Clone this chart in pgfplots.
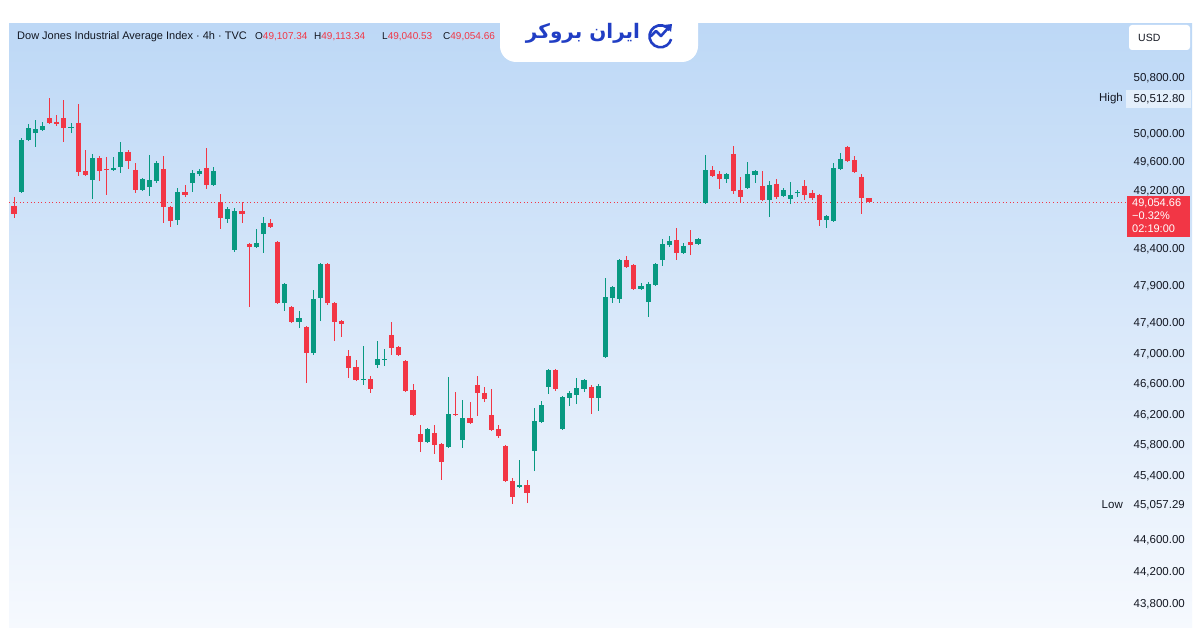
\documentclass[border=0pt]{standalone}
\usepackage{pgfplots}
\pgfplotsset{compat=1.18}
\usepackage{pgfplotstable}
\usepackage{fontspec}
\setmainfont{Liberation Sans}
\newfontfamily\arabicfont[Script=Arabic]{DejaVu Sans}
\TeXXeTstate=1
\definecolor{upc}{HTML}{089981}
\definecolor{dnc}{HTML}{F23645}
\definecolor{txt}{HTML}{131722}
\definecolor{bgtop}{RGB}{189,216,246}
\definecolor{bgbot}{RGB}{246,249,254}
\definecolor{logo}{RGB}{33,62,196}

\pgfplotstableread{
i o h l c d
1 49000 49124 48834 48889 0
2 49193 49948 49180 49920 1
3 49920 50145 49905 50089 1
4 50018 50202 49822 50075 1
5 50061 50174 50050 50117 1
6 50230 50512.8 50150 50160 0
7 50174 50273 50117 50145 0
8 50230 50486 49892 50089 0
9 50089 50160 50018 50103 1
10 50160 50429 49416 49471 0
11 49485 49780 49416 49430 0
12 49360 49723 49096 49667 1
13 49667 49695 49346 49485 0
14 49513 49681 49152 49499 0
15 49499 49681 49485 49527 1
16 49541 49892 49457 49752 1
17 49752 49780 49513 49625 0
18 49499 49597 49180 49221 0
19 49221 49388 49210 49374 1
20 49263 49709 49138 49360 1
21 49346 49625 49319 49597 1
22 49513 49695 48766 48986 0
23 48986 49000 48711 48793 0
24 48807 49249 48738 49193 1
25 49193 49291 49124 49152 0
26 49319 49499 49193 49457 1
27 49444 49513 49416 49485 1
28 49527 49808 49235 49291 0
29 49291 49541 49280 49485 1
30 49055 49166 48683 48834 0
31 48820 48986 48766 48958 1
32 48396 48972 48369 48931 1
33 48931 49055 48766 48889 0
34 48478 48490 47624 48437 0
35 48437 48683 48425 48492 1
36 48615 48848 48355 48766 1
37 48766 48820 48700 48711 0
38 48505 48515 47665 47679 0
39 47679 47948 47571 47934 1
40 47624 47635 47410 47423 0
41 47423 47571 47343 47477 1
42 47356 47370 46615 47011 0
43 47011 47853 46985 47732 1
44 47746 48219 47437 48205 1
45 48205 48215 47652 47679 0
46 47679 47690 47170 47423 0
47 47437 47450 47223 47397 0
48 46971 47051 46681 46813 0
49 46826 46919 46645 46655 0
50 46655 47103 46589 46668 1
51 46668 46707 46484 46537 0
52 46853 47170 46813 46932 1
53 46919 47064 46840 46932 1
54 47250 47423 46985 47077 0
55 47090 47103 46971 46985 0
56 46905 46918 46498 46511 0
57 46524 46602 46183 46196 0
58 45950 46067 45717 45846 0
59 45846 46028 45833 46015 1
60 45963 46067 45692 45808 0
61 45821 45834 45358 45589 0
62 45782 46694 45770 46209 1
63 46209 46497 46183 46196 0
64 45872 46392 45769 46157 1
65 46157 46366 46080 46093 0
66 46589 46707 46183 46484 0
67 46484 46563 46366 46405 0
68 46196 46537 45989 46002 0
69 46015 46067 45898 45924 0
70 45795 45808 45332 45345 0
71 45345 45383 45057.29 45141 0
72 45268 45614 45255 45294 1
73 45294 45358 45065 45192 0
74 45730 46288 45473 46119 1
75 46106 46379 46093 46327 1
76 46563 46800 46471 46787 1
77 46787 46800 46511 46537 0
78 46015 46444 46002 46431 1
79 46418 46511 46314 46484 1
80 46458 46681 46340 46550 1
81 46537 46668 46497 46655 1
82 46563 46589 46209 46418 0
83 46418 46602 46249 46576 1
84 46958 48015 46945 47759 1
85 47746 47907 47679 47893 1
86 47732 48273 47679 48260 1
87 48260 48314 48151 48164 0
88 48192 48205 47853 47867 0
89 47867 47948 47855 47907 1
90 47692 47961 47490 47934 1
91 47921 48219 47907 48205 1
92 48260 48546 48178 48478 1
93 48464 48587 48437 48519 1
94 48533 48697 48260 48355 0
95 48355 48492 48342 48451 1
96 48505 48669 48328 48464 0
97 48478 48560 48465 48546 1
98 49041 49709 49028 49499 1
99 49499 49555 49402 49416 0
100 49444 49485 49235 49374 0
101 49374 49457 49319 49444 1
102 49723 49836 49166 49207 0
103 49221 49402 49041 49124 0
104 49249 49611 49235 49444 1
105 49430 49498 49319 49485 1
106 49277 49485 49069 49082 0
107 49082 49346 48848 49291 1
108 49305 49374 49096 49124 0
109 49138 49249 49124 49221 1
110 49096 49332 49027 49152 1
111 49172 49221 49124 49188 1
112 49277 49360 49082 49152 0
113 49180 49221 49082 49110 0
114 49152 49165 48724 48807 0
115 48807 48875 48697 48862 1
116 48793 49597 48780 49527 1
117 49513 49737 49500 49653 1
118 49822 49836 49612 49625 0
119 49639 49695 49458 49471 0
120 49402 49444 48889 49107.34 0
121 49107.34 49113.34 49040.53 49054.66 0
}\candles

\begin{document}
\begin{tikzpicture}[x=1pt,y=1pt]
\useasboundingbox (0,0) rectangle (1200,628);
\fill[white] (0,0) rectangle (1200,628);
\shade[top color=bgtop, bottom color=bgbot] (9,0) rectangle (1192,604);
\begin{axis}[
  at={(9pt,0pt)}, anchor=south west, scale only axis,
  width=1183pt, height=604pt,
  y coord trafo/.code={\begingroup\pgfkeys{/pgf/fpu=true,/pgf/fpu/output format=fixed}\pgfmathparse{ln(#1)*1000}\xdef\mytrafores{\pgfmathresult}\endgroup\let\pgfmathresult\mytrafores},
  y coord inv trafo/.code={\begingroup\pgfkeys{/pgf/fpu=true,/pgf/fpu/output format=fixed}\pgfmathparse{exp(#1/1000)}\xdef\mytrafores{\pgfmathresult}\endgroup\let\pgfmathresult\mytrafores},
  xmin=0.2982, xmax=166.33, ymin=43504.8, ymax=51579,
  axis line style={draw=none},
  major tick length=0pt,
  scaled y ticks=false, scaled x ticks=false,
  xtick=\empty,
  ytick={43800,44200,44600,45400,45800,46200,46600,47000,47400,47900,48400,49200,49600,50000,50800},
  yticklabels={{43,800.00},{44,200.00},{44,600.00},{45,400.00},{45,800.00},{46,200.00},{46,600.00},{47,000.00},{47,400.00},{47,900.00},{48,400.00},{49,200.00},{49,600.00},{50,000.00},{50,800.00}},
  yticklabel pos=right,
  yticklabel style={anchor=east, inner sep=0pt, xshift=-7pt, font=\fontsize{11.5}{12}\selectfont, text=txt},
  unbounded coords=jump,
]
\addplot[dnc, line width=0.9pt, dash pattern=on 1pt off 2.6pt, forget plot] coordinates {(0.2982,49054.66) (157.2,49054.66)};
\pgfplotstablegetrowsof{\candles}
\pgfmathtruncatemacro\lastrow{\pgfplotsretval-1}
\pgfplotsforeachungrouped \rr in {0,...,\lastrow}{%
  \pgfplotstablegetelem{\rr}{i}\of\candles \let\cI\pgfplotsretval
  \pgfplotstablegetelem{\rr}{o}\of\candles \let\cO\pgfplotsretval
  \pgfplotstablegetelem{\rr}{h}\of\candles \let\cH\pgfplotsretval
  \pgfplotstablegetelem{\rr}{l}\of\candles \let\cL\pgfplotsretval
  \pgfplotstablegetelem{\rr}{c}\of\candles \let\cC\pgfplotsretval
  \pgfplotstablegetelem{\rr}{d}\of\candles \let\cD\pgfplotsretval
  \ifnum\cD=1 \def\cCol{upc}\else\def\cCol{dnc}\fi
  \edef\doplot{%
    \noexpand\addplot[draw=\cCol, line width=1pt, forget plot] coordinates {(\cI,\cL) (\cI,\cH)};
    \noexpand\addplot[draw=\cCol, line width=5.2pt, forget plot] coordinates {(\cI,\cO) (\cI,\cC)};
  }%
  \doplot
}
\end{axis}

% header
\begin{scope}[font=\fontsize{11}{12}\selectfont]
\node[anchor=west, inner sep=0pt, text=txt] at (17,591) {Dow Jones Industrial Average Index · 4h · TVC};
\end{scope}
\begin{scope}[font=\fontsize{10}{12}\selectfont]
\node[anchor=west, inner sep=0pt, text=txt] at (255,591) {O\textcolor{dnc}{49,107.34}};
\node[anchor=west, inner sep=0pt, text=txt] at (314,591) {H\textcolor{dnc}{49,113.34}};
\node[anchor=west, inner sep=0pt, text=txt] at (382,591) {L\textcolor{dnc}{49,040.53}};
\node[anchor=west, inner sep=0pt, text=txt] at (443,591) {C\textcolor{dnc}{49,054.66}};
\end{scope}

% logo tab
\fill[white, rounded corners=16pt] (500,660) -- (500,566) -- (698,566) -- (698,660) -- cycle;
\node[inner sep=0pt, text=logo] at (583,595) {\arabicfont\bfseries\fontsize{20}{24}\selectfont\beginR ایران بروکر\endR};
\draw[logo, line width=2.6pt] (669.5,598) arc[start angle=35, end angle=345, radius=11];
\draw[logo, line width=2.6pt, line join=round, line cap=round] (651,592) -- (656,597) -- (661,592) -- (669,601);
\fill[logo] (672,604) -- (664,603) -- (671,596) -- cycle;

% USD box
\fill[white, rounded corners=3pt] (1129,578) rectangle (1190,603);
\node[anchor=west, inner sep=0pt, text=txt, font=\fontsize{10.5}{12}\selectfont] at (1138,590.5) {USD};

% High / Low
\fill[white, opacity=0.55] (1126,520) rectangle (1191,538);
\node[anchor=east, inner sep=0pt, text=txt, font=\fontsize{11.5}{12}\selectfont] at (1123,529) {High};
\node[anchor=east, inner sep=0pt, text=txt, font=\fontsize{11.5}{12}\selectfont] at (1185,529) {50,512.80};
\node[anchor=east, inner sep=0pt, text=txt, font=\fontsize{11.5}{12}\selectfont] at (1123,123) {Low};
\node[anchor=east, inner sep=0pt, text=txt, font=\fontsize{11.5}{12}\selectfont] at (1185,123) {45,057.29};

% current price box
\fill[dnc] (1127,391) rectangle (1190,432);
\begin{scope}[font=\fontsize{11}{12}\selectfont, text=white]
\node[anchor=west, inner sep=0pt] at (1132,425) {49,054.66};
\node[anchor=west, inner sep=0pt] at (1132,412) {−0.32\%};
\node[anchor=west, inner sep=0pt] at (1132,399) {02:19:00};
\end{scope}
\end{tikzpicture}
\end{document}
